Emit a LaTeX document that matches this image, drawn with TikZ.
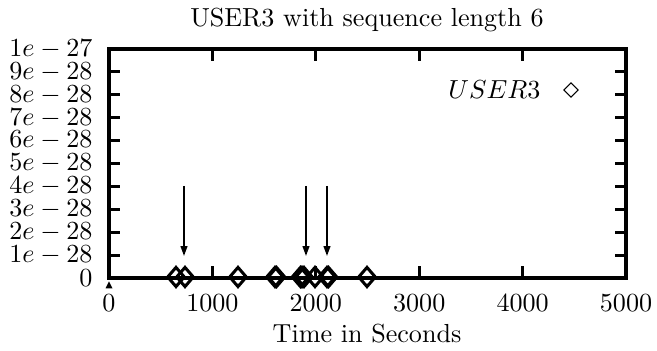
\documentclass[tikz,border=0pt]{standalone}
\usetikzlibrary{arrows.meta,shapes.geometric}
\begin{document}
\begin{tikzpicture}[x=0.3817bp,y=-0.3817bp,
  axis/.style={line width=1.15bp},
  tickline/.style={line width=1.15bp},
  ylab/.style={anchor=east,inner sep=0pt},
  xlab/.style={anchor=base,inner sep=0pt},
  dmd/.style={shape=diamond,draw,line width=1.15bp,inner sep=0pt,minimum width=6.8bp,minimum height=7.8bp},
  legdmd/.style={shape=diamond,draw,line width=0.4bp,inner sep=0pt,minimum width=5.6bp,minimum height=5.6bp},
  marker/.style={line width=0.6bp,-{Triangle[width=2.6bp,length=3.8bp]}}]
\useasboundingbox (0,0) rectangle (657,351);
% frame
\coordinate (ll) at (109,278);
\coordinate (ur) at (626,49);
\draw[axis] (ll) rectangle (ur);
% y ticks and labels
\foreach \k/\lab in {1/1e-28,2/2e-28,3/3e-28,4/4e-28,5/5e-28,6/6e-28,7/7e-28,8/8e-28,9/9e-28}{
  \pgfmathsetmacro{\yy}{278-\k*22.9}
  \draw[tickline] (109,\yy) -- (120,\yy);
  \draw[tickline] (626,\yy) -- (615,\yy);
  \node[ylab] (yl\k) at (93,\yy) {$\lab$};
}
\node[ylab] (yl0) at (93,278) {$0$};
\node[ylab] (yl10) at (93,49) {$1e-27$};
% x ticks and labels
\foreach \k in {1,2,3,4}{
  \pgfmathsetmacro{\xx}{109+\k*103.4}
  \draw[tickline] (\xx,278) -- (\xx,266);
  \draw[tickline] (\xx,49) -- (\xx,61);
}
\foreach \k/\lab in {0/0,1/1000,2/2000,3/3000,4/4000,5/5000}{
  \pgfmathsetmacro{\xx}{109+\k*103.4}
  \node[xlab] (xl\k) at (\xx,312) {$\lab$};
}
% titles
\node[anchor=base,inner sep=0pt] (title) at (367,27) {USER3 with sequence length 6};
\node[anchor=base,inner sep=0pt] (xtitle) at (367,343) {Time in Seconds};
% legend
\node[anchor=east,inner sep=0pt] (legtext) at (541,90) {$USER3$};
\node[legdmd] (legmark) at (571,90) {};
% origin marker
\fill (109,281.5) -- (105.5,288.5) -- (112.5,288.5) -- cycle;
% data points
\foreach \n/\xx in {1/176,2/185,3/238,4/275,5/276.5,6/300.5,7/302,8/304,9/315,10/327,11/328.5,12/367}{
  \node[dmd] (d\n) at (\xx,277) {};
}
% arrows
\coordinate (a1s) at (184,186); \coordinate (a1e) at (184,256);
\coordinate (a2s) at (306,186); \coordinate (a2e) at (306,256);
\coordinate (a3s) at (327,186); \coordinate (a3e) at (327,256);
\draw[marker] (a1s) -- (a1e);
\draw[marker] (a2s) -- (a2e);
\draw[marker] (a3s) -- (a3e);
\end{tikzpicture}
\end{document}
